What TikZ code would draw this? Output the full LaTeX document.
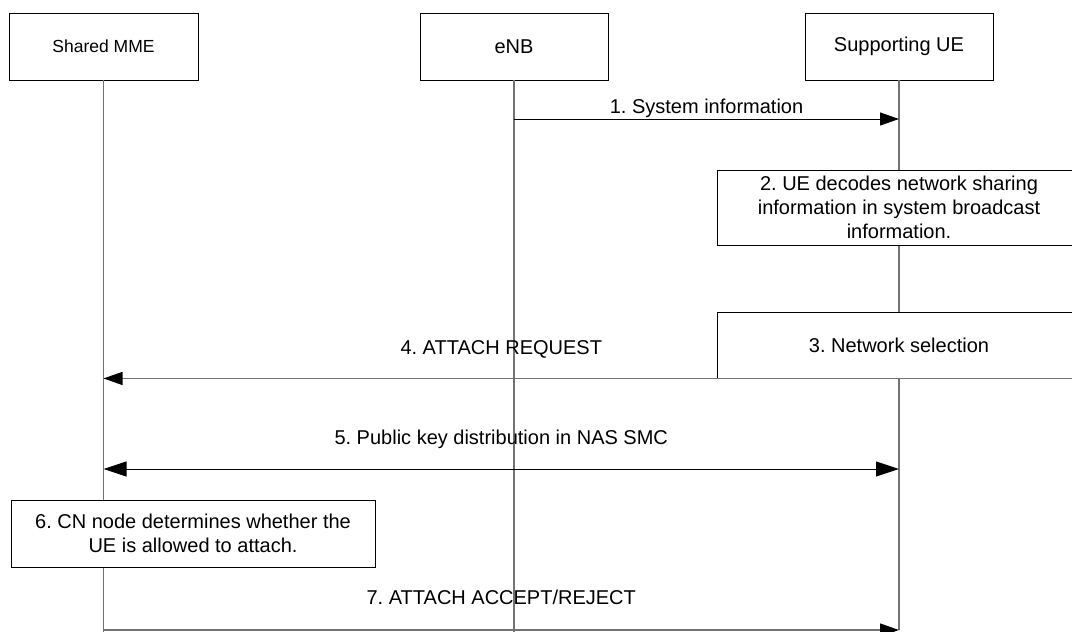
\documentclass[tikz,border=0pt]{standalone}
\usepackage{fontspec}
\setmainfont{Liberation Sans}
\usetikzlibrary{arrows.meta,positioning,calc}
\frenchspacing

\begin{document}
\begin{tikzpicture}[x=1pt, y=-1pt, >={Triangle[length=19pt,width=13pt]}, font=\fontsize{20}{24}\selectfont]
    \tikzstyle{entity} = [rectangle, draw=black, line width=0.9pt, fill=white, minimum width=188pt, minimum height=67pt, inner sep=0pt]
    \tikzstyle{action} = [rectangle, draw=black, line width=0.9pt, fill=white, minimum width=364pt, align=center, inner sep=0pt]
    \tikzstyle{life} = [draw=black!55, line width=1.3pt]
    \tikzstyle{msg} = [draw, ->, line width=1pt]
    \tikzstyle{msg gray} = [draw=black!55, line width=1.2pt, -{Triangle[length=19pt,width=13pt,color=black]}]
    \tikzstyle{lbl} = [anchor=base, inner sep=0pt]

    \useasboundingbox (0,0) rectangle (1072,632);

    \node [entity, minimum width=189pt, font=\fontsize{17.5}{21}\selectfont] (mme) at (103.5,46.5) {Shared MME};
    \node [entity] (enb) at (514,46.5) {eNB};
    \node [entity] (ue) at (899,46.5) {Supporting UE};

    % lifelines
    \coordinate (bot) at (0,640);
    \draw [life] (mme) -- (mme |- bot);
    \draw [life] (enb) -- (enb |- bot);
    \draw [life] (ue) -- (ue |- 0,630);

    % local steps
    \node [action, minimum height=75pt] (decode) at (899,207.5) {2. UE decodes network sharing\\information in system broadcast\\information.};
    \node [action, minimum height=66pt] (select) at (899,345) {3. Network selection};
    \node [action, minimum height=67pt] (check) at (193,533.5) {6. CN node determines whether the\\UE is allowed to attach.};

    % messages
    \coordinate (r1) at (0,119);
    \coordinate (r5) at (0,469);
    \coordinate (r7) at (0,630);
    \draw [msg] (enb |- r1) -- node[lbl, yshift=6pt] {1. System information} (ue |- r1);
    \draw [msg gray] (select.south east) -- (select.south east -| mme);
    \path (mme |- select.south) -- node[lbl, yshift=24pt] {4. ATTACH REQUEST} (ue |- select.south);
    \draw [msg, <->, >={Triangle[length=23pt,width=15pt]}] (mme |- r5) -- node[lbl, yshift=25pt] {5. Public key distribution in NAS SMC} (ue |- r5);
    \draw [msg gray] (mme |- r7) -- node[lbl, yshift=26pt] {7. ATTACH ACCEPT/REJECT} (ue |- r7);
\end{tikzpicture}
\end{document}
